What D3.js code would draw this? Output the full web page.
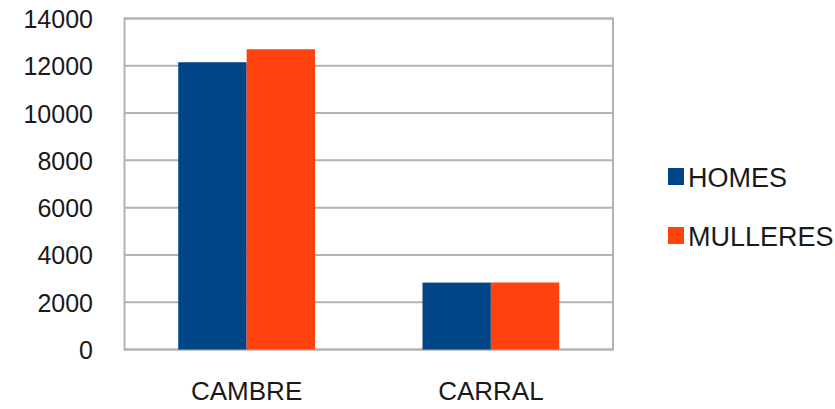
<!DOCTYPE html>
<html><head><meta charset="utf-8">
<script src="https://cdn.jsdelivr.net/npm/d3@7"></script>
<style>body{margin:0;background:#fff}svg text{font-family:"Liberation Sans",Arial,sans-serif;fill:#1a1a1a}</style>
</head><body>
<svg id="c" width="835" height="409"></svg>
<script>
const categories = ["CAMBRE", "CARRAL"];
const seriesNames = ["HOMES", "MULLERES"];
const homes = [12150, 2830];
const mulleres = [12700, 2835];
const yTicks = [0, 2000, 4000, 6000, 8000, 10000, 12000, 14000];
const colors = ["#004586", "#ff420e"];

const svg = d3.select("#c");
const L = 124.5, R = 613, T = 18.5, B = 349.5;
const x = d3.scaleBand().domain(categories).range([L, R]).paddingInner(0.44).paddingOuter(0.22);
const xs = d3.scaleBand().domain(seriesNames).range([0, x.bandwidth()]);
const y = d3.scaleLinear().domain([0, 14000]).range([B, T]);

// gridlines
svg.append("g").selectAll("line").data(yTicks).join("line")
  .attr("x1", L).attr("x2", R).attr("y1", d => y(d)).attr("y2", d => y(d))
  .attr("stroke", "#b3b3b3").attr("stroke-width", 2);
// border
svg.append("rect").attr("x", L).attr("y", T).attr("width", R - L).attr("height", B - T)
  .attr("fill", "none").attr("stroke", "#b3b3b3").attr("stroke-width", 2);

const data = categories.map((c, i) => ({c, vals: [homes[i], mulleres[i]]}));
svg.append("g").selectAll("g").data(data).join("g")
  .attr("transform", d => `translate(${x(d.c)},0)`)
  .selectAll("rect").data(d => d.vals.map((v, j) => ({v, s: seriesNames[j], j})))
  .join("rect")
  .attr("x", d => xs(d.s)).attr("width", xs.bandwidth())
  .attr("y", d => y(d.v)).attr("height", d => B - y(d.v))
  .attr("fill", d => colors[d.j]);

// y axis labels
const yAxis = d3.axisLeft(y).tickValues(yTicks).tickSize(0).tickPadding(0).tickFormat(d3.format("d"));
const ya = svg.append("g").attr("transform", `translate(93,0)`).call(yAxis);
ya.select(".domain").remove();
ya.selectAll("text").attr("font-size", 25).attr("dy", "0.36em").style("font-family", "'Liberation Sans',Arial,sans-serif").attr("fill", "#1a1a1a");

// x axis labels
const xAxis = d3.axisBottom(x).tickSize(0).tickPadding(0);
const xa = svg.append("g").attr("transform", `translate(0,382)`).call(xAxis);
xa.select(".domain").remove();
xa.selectAll("text").attr("font-size", 26).attr("dy", "0.71em").style("font-family", "'Liberation Sans',Arial,sans-serif").attr("fill", "#1a1a1a");

// legend
const lg = svg.append("g").selectAll("g").data(seriesNames).join("g")
  .attr("transform", (d, i) => `translate(668,${168 + i * 59})`);
lg.append("rect").attr("width", 16).attr("height", 17).attr("fill", (d, i) => colors[i]);
lg.append("text").attr("x", 20).attr("y", 18.5).attr("font-size", 27).text(d => d);
</script>
</body></html>
